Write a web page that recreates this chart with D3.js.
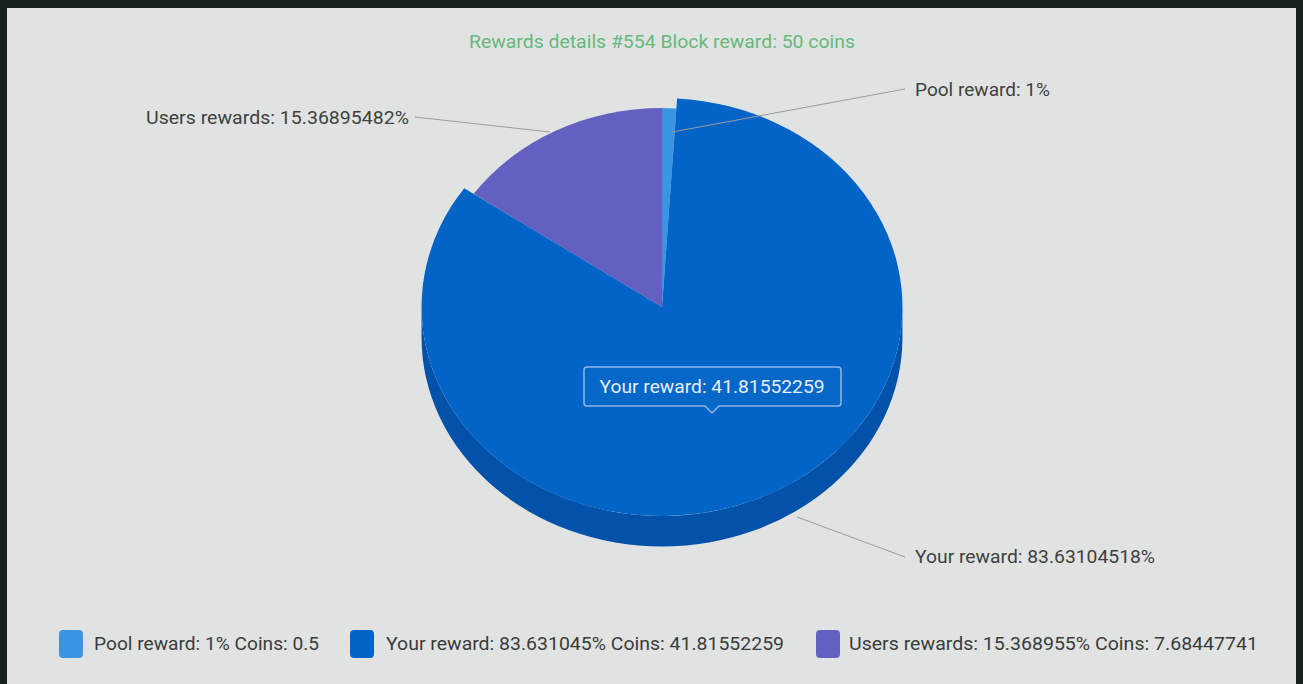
<!DOCTYPE html>
<html>
<head>
<meta charset="utf-8">
<script src="https://cdn.jsdelivr.net/npm/d3@7"></script>
<style>
  html, body { margin: 0; padding: 0; background: #17221b; }
  svg { display: block; }
  text { font-family: Roboto, "Noto Sans", sans-serif; }
</style>
</head>
<body>
<svg id="chart" width="1303" height="684"></svg>
<script>
// ---- data ----
const categories = ["Pool reward", "Your reward", "Users rewards"];
const percents = [1, 83.63104518, 15.36895482];
const coins = [0.5, 41.81552259, 7.68447741];
const blockNumber = 554;
const blockReward = 50;
const hoveredIndex = 1;
const colors = ["#3b95e4", "#0264c6", "#6360c2"];
const sideColors = ["#2d7cc4", "#0152a8", "#4f4da6"];

// ---- layout ----
const W = 1303, H = 684;
const cx = 662, cy = 307, R = 229, RY = 199, depth = 29, hoverScale = 1.05;
const k = RY / R;

const svg = d3.select("#chart");
svg.append("rect").attr("x", 7).attr("y", 8).attr("width", W - 14).attr("height", H - 8).attr("fill", "#e1e3e2");

// title
svg.append("text")
  .attr("x", 662).attr("y", 41).attr("dy", "0.35em")
  .attr("text-anchor", "middle")
  .attr("font-size", 19).attr("fill", "#66b97b")
  .attr("textLength", 386).attr("lengthAdjust", "spacingAndGlyphs")
  .text(`Rewards details #${blockNumber} Block reward: ${blockReward} coins`);

const pie = d3.pie().sort(null).value(d => d);
const arcs = pie(percents);

const g = svg.append("g").attr("transform", `translate(${cx},${cy}) scale(1,${k})`);

function radiusOf(i) { return i === hoveredIndex ? R * hoverScale : R; }
function depthOf(i) { return i === hoveredIndex ? depth * hoverScale : depth; }

// side walls (front half only)
arcs.forEach((a, i) => {
  const s = Math.max(a.startAngle, Math.PI / 2);
  const e = Math.min(a.endAngle, 3 * Math.PI / 2);
  if (s >= e) return;
  const r = radiusOf(i);
  const dz = depthOf(i) / k;
  const p = d3.path();
  p.moveTo(r * Math.sin(s), -r * Math.cos(s));
  p.arc(0, 0, r, s - Math.PI / 2, e - Math.PI / 2, false);
  p.lineTo(r * Math.sin(e), -r * Math.cos(e) + dz);
  p.arc(0, dz, r, e - Math.PI / 2, s - Math.PI / 2, true);
  p.closePath();
  g.append("path").attr("d", p.toString()).attr("fill", sideColors[i]);
});

// top surfaces: non-hovered first, hovered last
const order = arcs.map((a, i) => i).sort((a, b) => (a === hoveredIndex) - (b === hoveredIndex));
order.forEach(i => {
  const arcGen = d3.arc().innerRadius(0).outerRadius(radiusOf(i));
  g.append("path").attr("d", arcGen(arcs[i])).attr("fill", colors[i]);
});

// leader lines + labels
const labelFmt = (i) => `${categories[i]}: ${percents[i]}%`;
const labels = [
  { i: 0, line: [[672, 132], [905, 89]], x: 915, y: 89, anchor: "start", len: 135 },
  { i: 2, line: [[550, 132], [415, 117]], x: 409, y: 117, anchor: "end", len: 263 },
  { i: 1, line: [[797, 517], [905, 557]], x: 915, y: 556, anchor: "start", len: 240 }
];
labels.forEach(l => {
  svg.append("path").attr("d", d3.line()(l.line))
    .attr("stroke", "#9a9c9c").attr("stroke-width", 1).attr("fill", "none");
  svg.append("text")
    .attr("x", l.x).attr("y", l.y).attr("dy", "0.35em")
    .attr("text-anchor", l.anchor)
    .attr("font-size", 19).attr("fill", "#3f4140")
    .attr("textLength", l.len).attr("lengthAdjust", "spacingAndGlyphs")
    .text(labelFmt(l.i));
});

// tooltip for hovered slice
const tip = svg.append("g");
const tx = 584, ty = 367, tw = 257, th = 39, px = 712;
const tipPath = d3.path();
tipPath.moveTo(tx + 3, ty);
tipPath.lineTo(tx + tw - 3, ty);
tipPath.quadraticCurveTo(tx + tw, ty, tx + tw, ty + 3);
tipPath.lineTo(tx + tw, ty + th - 3);
tipPath.quadraticCurveTo(tx + tw, ty + th, tx + tw - 3, ty + th);
tipPath.lineTo(px + 7, ty + th);
tipPath.lineTo(px, ty + th + 7);
tipPath.lineTo(px - 7, ty + th);
tipPath.lineTo(tx + 3, ty + th);
tipPath.quadraticCurveTo(tx, ty + th, tx, ty + th - 3);
tipPath.lineTo(tx, ty + 3);
tipPath.quadraticCurveTo(tx, ty, tx + 3, ty);
tipPath.closePath();
tip.append("path").attr("d", tipPath.toString())
  .attr("fill", "#0567c8").attr("stroke", "#8db6e6").attr("stroke-width", 1.5);
tip.append("text")
  .attr("x", px).attr("y", ty + th / 2).attr("dy", "0.35em")
  .attr("text-anchor", "middle").attr("font-size", 19).attr("fill", "#e6eef8")
  .attr("textLength", 225).attr("lengthAdjust", "spacingAndGlyphs")
  .text(`${categories[hoveredIndex]}: ${coins[hoveredIndex]}`);

// legend
const legendPos = [
  { sx: 59, tx: 94, len: 225 },
  { sx: 350, tx: 386, len: 398 },
  { sx: 816, tx: 849, len: 409 }
];
const fmt6 = v => String(+v.toFixed(6));
categories.forEach((c, i) => {
  const lp = legendPos[i];
  svg.append("rect").attr("x", lp.sx).attr("y", 630).attr("width", 24).attr("height", 28)
    .attr("rx", 4).attr("fill", colors[i]);
  svg.append("text")
    .attr("x", lp.tx).attr("y", 643).attr("dy", "0.35em")
    .attr("font-size", 19).attr("fill", "#3a3c3b")
    .attr("textLength", lp.len).attr("lengthAdjust", "spacingAndGlyphs")
    .text(`${c}: ${fmt6(percents[i])}% Coins: ${coins[i]}`);
});
</script>
</body>
</html>
